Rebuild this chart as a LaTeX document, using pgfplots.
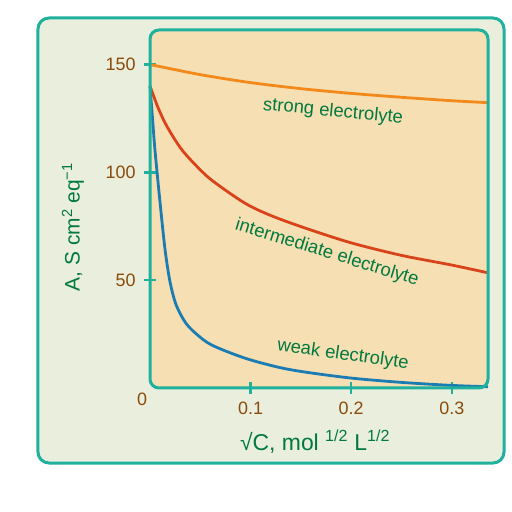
\documentclass[border=0pt]{standalone}
\usepackage{fontspec}
\setmainfont{Liberation Sans}
\usepackage{pgfplots}
\pgfplotsset{compat=1.18}

\definecolor{tealbox}{HTML}{1FB09E}
\definecolor{outerbg}{HTML}{EAEEDC}
\definecolor{innerbg}{HTML}{F7DFB4}
\definecolor{strongc}{HTML}{F2891A}
\definecolor{interc}{HTML}{D8431A}
\definecolor{weakc}{HTML}{1A7CB2}
\definecolor{labgreen}{HTML}{00793E}
\definecolor{tickbrown}{HTML}{8A4B0C}

\begin{document}
\begin{tikzpicture}[x=1bp,y=1bp]
\useasboundingbox (-150,-124) rectangle (362,388);
% outer panel
\draw[tealbox, line width=3bp, fill=outerbg, rounded corners=11bp] (-112,370) rectangle (354,-75);
% inner panel fill
\fill[innerbg, rounded corners=9bp] (0,0) rectangle (338,358);

\begin{axis}[
    at={(0,0)}, anchor=south west,
    scale only axis,
    width=338bp, height=358bp,
    xmin=0, xmax=0.336,
    ymin=0, ymax=166,
    axis line style={draw=none},
    xtick={0.1,0.2,0.3},
    ytick={50,100,150},
    xtick pos=left, ytick pos=left,
    tick align=center,
    major tick length=12bp,
    tick style={tealbox, line width=2.5bp},
    ticklabel style={font=\fontsize{18}{21}\selectfont, text=tickbrown},
    /pgf/number format/assume math mode=true,
    /pgf/number format/fixed,
    xticklabel style={yshift=-4bp},
    yticklabel style={xshift=-5bp},
    clip=false,
]
% strong electrolyte
\addplot[strongc, line width=2.8bp, smooth] coordinates {
(0,150) (0.05,145.3) (0.1,141.6) (0.15,138.8) (0.2,136.6)
(0.25,134.8) (0.3,133.2) (0.336,132.3)
};
% intermediate electrolyte
\addplot[interc, line width=2.8bp, smooth] coordinates {
(0,140) (0.008,130) (0.0166,121.5) (0.03,111.5) (0.043,104.5) (0.061,96.5)
(0.094,85.8) (0.12,80) (0.154,74.2) (0.2,67.3) (0.25,61.5) (0.3,57) (0.336,53.4)
};
% weak electrolyte
\addplot[weakc, line width=2.8bp, smooth] coordinates {
(0,140) (0.0025,125) (0.005,110) (0.01,86) (0.015,64) (0.02,49) (0.026,38.5)
(0.035,30.5) (0.045,25.5) (0.061,20) (0.094,13.9) (0.127,9.7) (0.154,7.4) (0.2,4.6)
(0.25,2.6) (0.3,1.2) (0.336,0.6)
};
\draw[tealbox, line width=3bp, rounded corners=9bp]
  (rel axis cs:0,0) rectangle (rel axis cs:1,1);
\end{axis}

\node[text=tickbrown, font=\fontsize{18}{21}\selectfont] at (-8,-11) {0};
\node[text=labgreen, font=\fontsize{21}{25}\selectfont, rotate=90] at (-77,161)
  {A, S cm\textsuperscript{2} eq\textsuperscript{−1}};
\node[text=labgreen, font=\fontsize{23}{27}\selectfont] at (165,-54)
  {√C, mol \textsuperscript{1/2} L\textsuperscript{1/2}};
\node[text=labgreen, font=\fontsize{18.5}{22}\selectfont, rotate=-5.5] at (183,276) {strong electrolyte};
\node[text=labgreen, font=\fontsize{18.5}{22}\selectfont, rotate=-17] at (177,135) {intermediate electrolyte};
\node[text=labgreen, font=\fontsize{18.5}{22}\selectfont, rotate=-8] at (193,33) {weak electrolyte};
\end{tikzpicture}
\end{document}
